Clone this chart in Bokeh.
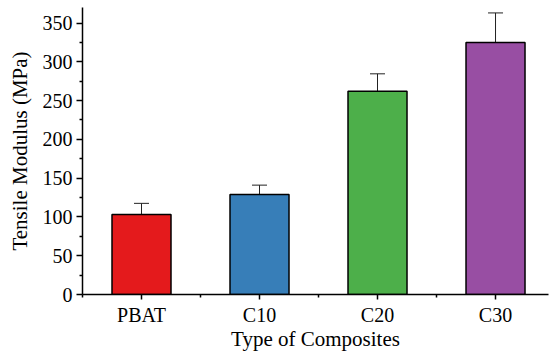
from bokeh.plotting import figure
from bokeh.models import ColumnDataSource, Range1d, FixedTicker, Whisker, TeeHead
from bokeh.embed import file_html
from bokeh.resources import INLINE

categories = ["PBAT", "C10", "C20", "C30"]
modulus = [103, 129, 262, 325]
errors = [14.5, 12, 22.5, 38]
colors = ["#E41A1C", "#377EB8", "#4DAF4A", "#984EA3"]
y_ticks = [0, 50, 100, 150, 200, 250, 300, 350]

xs = list(range(1, len(categories) + 1))
src = ColumnDataSource(dict(
    x=xs, top=modulus, color=colors,
    upper=[m + e for m, e in zip(modulus, errors)],
    lower=[m - e for m, e in zip(modulus, errors)],
))

FONT = "Liberation Serif"

p = figure(width=551, height=353, output_backend="svg", toolbar_location=None,
           x_range=Range1d(0.5, 4.449), y_range=Range1d(0, 370),
           min_border_left=82, min_border_right=3, min_border_top=7, min_border_bottom=0)
p.outline_line_color = None
p.grid.visible = False
p.background_fill_color = "white"

p.vbar(x="x", top="top", width=0.5, bottom=0, fill_color="color",
       line_color="black", line_width=1.5, source=src)

w = Whisker(source=src, base="x", upper="upper", lower="lower", dimension="height",
            line_color="#222222", line_width=1,
            upper_head=TeeHead(size=15, line_color="#222222", line_width=1),
            lower_head=TeeHead(size=15, line_color="#222222", line_width=1))
p.add_layout(w)

# x axis
p.xaxis.ticker = FixedTicker(ticks=xs, minor_ticks=[0.5, 1.5, 2.5, 3.5])
p.xaxis.major_label_overrides = {x: c for x, c in zip(xs, categories)}
p.xaxis.axis_label = "Type of Composites"
# y axis
p.yaxis.ticker = FixedTicker(ticks=y_ticks, minor_ticks=[t + 25 for t in y_ticks])
p.yaxis.axis_label = "Tensile Modulus (MPa)"

p.axis.axis_line_width = 1.5
p.axis.axis_line_color = "black"
p.axis.major_tick_line_color = "black"
p.axis.minor_tick_line_color = "black"
p.axis.major_tick_line_width = 1.5
p.axis.minor_tick_line_width = 1.5
p.axis.major_tick_in = 0
p.axis.minor_tick_in = 0
p.axis.major_label_text_font = FONT
p.axis.major_label_text_font_size = "20px"
p.axis.major_label_text_font_style = "normal"
p.axis.major_label_text_color = "black"
p.axis.axis_label_text_font = FONT
p.axis.axis_label_text_font_size = "21px"
p.axis.axis_label_text_font_style = "normal"
p.axis.axis_label_text_color = "black"

p.xaxis.major_tick_out = 5
p.xaxis.minor_tick_out = 3
p.yaxis.major_tick_out = 6
p.yaxis.minor_tick_out = 3
p.xaxis.major_label_standoff = 4
p.yaxis.major_label_standoff = 4
p.xaxis.axis_label_standoff = -2
p.yaxis.axis_label_standoff = 8

open("out.html", "w").write(file_html(p, INLINE))
